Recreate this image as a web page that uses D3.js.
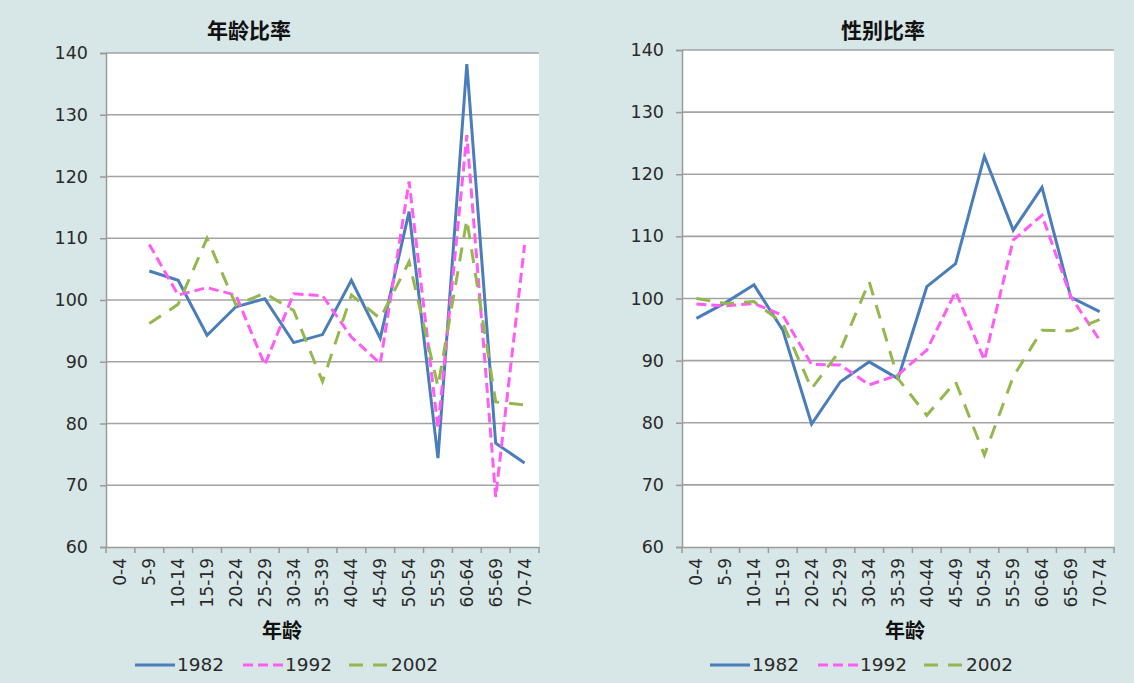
<!doctype html>
<html lang="zh">
<head>
<meta charset="utf-8" />
<title>年龄比率 / 性别比率</title>
<script src="https://d3js.org/d3.v7.min.js"></script>
<style>
  body { margin: 0; background: #d7e6e6; }
  svg text { font-family: "DejaVu Sans", Verdana, sans-serif; fill: #2a2a2a; }
  .cjk { font-family: "Noto Sans CJK SC", sans-serif; font-weight: 700; fill: #111; }
</style>
</head>
<body>
<div id="chart"></div>
<script>
// age groups shared by both panels
const ageGroups = ["0-4", "5-9", "10-14", "15-19", "20-24", "25-29", "30-34", "35-39",
  "40-44", "45-49", "50-54", "55-59", "60-64", "65-69", "70-74"];
const years = ["1982", "1992", "2002"];
const yTicks = [60, 70, 80, 90, 100, 110, 120, 130, 140];

// 年龄比率
const age1982 = [null, 104.7, 103.2, 94.3, 98.9, 100.2, 93.1, 94.4, 103.2, 93.8, 114.3, 74.4, 138.2, 76.8, 73.6];
const age1992 = [null, 109.0, 100.8, 102.0, 100.8, 89.5, 101.0, 100.7, 94.0, 89.7, 119.2, 79.2, 126.7, 68.1, 108.9];
const age2002 = [null, 96.2, 99.3, 110.0, 99.2, 101.1, 98.3, 86.8, 100.8, 97.0, 106.2, 86.0, 113.0, 83.5, 83.0];

// 性别比率
const sex1982 = [96.8, 99.3, 102.2, 94.9, 79.8, 86.6, 89.8, 87.1, 101.9, 105.6, 122.9, 111.0, 117.9, 100.2, 97.9];
const sex1992 = [99.1, 98.8, 99.2, 97.3, 89.4, 89.3, 86.1, 87.7, 91.7, 101.1, 90.1, 109.4, 113.4, 100.3, 93.3];
const sex2002 = [100.0, 99.2, 99.5, 96.0, 85.5, 91.7, 102.7, 87.1, 81.2, 86.6, 74.8, 87.4, 94.9, 94.8, 96.6];

const colors = ["#4a7ebb", "#ff5cf4", "#94b84e"];
const dashes = [null, "10,5", "14,10"];

const svg = d3.select("#chart").append("svg")
  .attr("width", 1134).attr("height", 683);

function drawPanel(opt) {
  const g = svg.append("g");
  const x = d3.scaleBand().domain(ageGroups).range([opt.left, opt.right]).padding(0);
  const y = d3.scaleLinear().domain([60, 140]).range([opt.bottom, opt.top]);

  g.append("rect")
    .attr("x", opt.left).attr("y", opt.top)
    .attr("width", opt.right - opt.left).attr("height", opt.bottom - opt.top)
    .attr("fill", "#fff");

  // gridlines
  g.selectAll(".grid").data(yTicks.slice(1)).enter().append("line")
    .attr("x1", opt.left).attr("x2", opt.right)
    .attr("y1", d => y(d)).attr("y2", d => y(d))
    .attr("stroke", "#a3a3a3").attr("stroke-width", 1.6);

  // y axis
  const ya = g.append("g").attr("transform", `translate(${opt.left},0)`)
    .call(d3.axisLeft(y).tickValues(yTicks).tickSize(6).tickPadding(12));
  ya.select(".domain").attr("stroke", "#9a9a9a").attr("stroke-width", 1.5);
  ya.selectAll(".tick line").attr("stroke", "#9a9a9a").attr("stroke-width", 1.5);
  ya.selectAll("text").attr("font-size", 17.5).attr("fill", "#222")
    .attr("font-family", "DejaVu Sans");

  // x axis
  const xa = g.append("g").attr("transform", `translate(0,${opt.bottom})`)
    .call(d3.axisBottom(x).tickSize(0).tickSizeOuter(0));
  xa.select(".domain").attr("stroke", "#9a9a9a").attr("stroke-width", 1.5);
  xa.selectAll("text")
    .attr("font-size", 17).attr("fill", "#222").attr("font-family", "DejaVu Sans")
    .attr("transform", "rotate(-90)")
    .attr("text-anchor", "end")
    .attr("x", -11).attr("y", 0).attr("dy", "0.35em");
  // tick marks at band edges
  const edges = ageGroups.map(d => x(d)).concat([opt.right]);
  xa.selectAll(".edge").data(edges).enter().append("line")
    .attr("x1", d => d).attr("x2", d => d)
    .attr("y1", 0).attr("y2", 6)
    .attr("stroke", "#9a9a9a").attr("stroke-width", 1.5);

  // series
  const line = d3.line()
    .defined(d => d.v != null)
    .x(d => x(d.k) + x.bandwidth() / 2)
    .y(d => y(d.v));
  opt.series.forEach((s, i) => {
    const pts = ageGroups.map((k, j) => ({ k: k, v: s[j] }));
    g.append("path").datum(pts)
      .attr("d", line)
      .attr("fill", "none")
      .attr("stroke", colors[i])
      .attr("stroke-width", 3)
      .attr("stroke-linejoin", "miter")
      .attr("stroke-dasharray", dashes[i]);
  });

  // title
  g.append("text").attr("class", "cjk")
    .attr("x", opt.titleX).attr("y", 38)
    .attr("text-anchor", "middle").attr("font-size", 21)
    .text(opt.title);

  // x axis label
  g.append("text").attr("class", "cjk")
    .attr("x", opt.xLabelX).attr("y", 638)
    .attr("text-anchor", "middle").attr("font-size", 20)
    .text("年龄");

  // legend
  const lg = g.append("g").attr("transform", `translate(${opt.legendX},665)`);
  const offs = [0, 108, 214];
  years.forEach((yr, i) => {
    lg.append("line")
      .attr("x1", offs[i]).attr("x2", offs[i] + 40)
      .attr("y1", 0).attr("y2", 0)
      .attr("stroke", colors[i]).attr("stroke-width", 3)
      .attr("stroke-dasharray", dashes[i]);
    lg.append("text")
      .attr("x", offs[i] + 42).attr("y", 0).attr("dy", "0.35em")
      .attr("font-size", 18.5).attr("fill", "#222")
      .text(yr);
  });
}

drawPanel({
  left: 106, right: 539, top: 53, bottom: 547,
  title: "年龄比率", titleX: 249, xLabelX: 282, legendX: 135,
  series: [age1982, age1992, age2002]
});

drawPanel({
  left: 682, right: 1114, top: 50, bottom: 547,
  title: "性别比率", titleX: 883, xLabelX: 905, legendX: 710,
  series: [sex1982, sex1992, sex2002]
});
</script>
</body>
</html>
